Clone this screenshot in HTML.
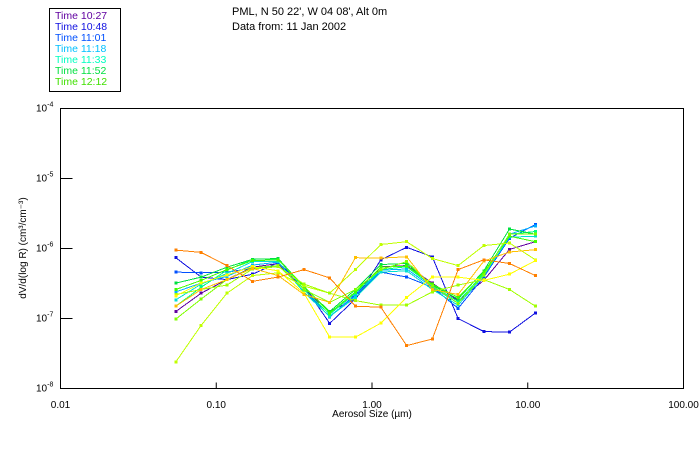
<!DOCTYPE html>
<html><head><meta charset="utf-8"><style>
body{margin:0;background:#fff;}
svg{display:block;font-family:"Liberation Sans",sans-serif;}
</style></head><body>
<svg id="chart" width="700" height="450" viewBox="0 0 700 450">
<rect x="0" y="0" width="700" height="450" fill="#fff"/>
<g>
<rect x="49.5" y="8.5" width="71" height="83" fill="none" stroke="#000"/>
<g id="legend-items" font-size="10.5"></g>
</g>
<text x="232" y="15" font-size="11">PML, N 50 22', W 04 08', Alt 0m</text>
<text x="232" y="30" font-size="11">Data from: 11 Jan 2002</text>
<rect x="60.5" y="108.5" width="623" height="280" fill="none" stroke="#000"/>
<g id="axes"></g>
<g id="series" shape-rendering="crispEdges"></g>
<text x="372" y="417" font-size="10" text-anchor="middle">Aerosol Size (µm)</text>
<text transform="translate(26,248) rotate(-90)" font-size="10" text-anchor="middle">dV/d(log R) (cm³/cm⁻³)</text>
</svg>
<script>
const sizes = [0.055,0.080,0.117,0.171,0.250,0.366,0.535,0.782,1.14,1.67,2.44,3.57,5.22,7.63,11.2];
const seriesNames = ["10:27","10:48","11:01","11:18","11:33","11:40","11:52","12:12","s9","s10","s11","s12","s13","s14"];
const seriesColors = ["#6000a0","#1010e0","#0050ff","#00b0ff","#00e0d0","#00ff80","#00e040","#40ff00","#80ff00","#c0ff00","#a0ff00","#ffff00","#ffc000","#ff8000"];
const legendLabels = ["Time 10:27","Time 10:48","Time 11:01","Time 11:18","Time 11:33","Time 11:52","Time 12:12"];
const legendColors = ["#6000a0","#1010e0","#0050ff","#00c0ff","#00ffc0","#00e040","#40e000"];
const s1 = [1.26e-7,2.3e-7,3.6e-7,5.4e-7,6.1e-7,2.6e-7,1.26e-7,1.9e-7,5.5e-7,5.7e-7,3.2e-7,1.8e-7,3.5e-7,9.7e-7,1.25e-6];
const s2 = [7.4e-7,3.9e-7,3.6e-7,4.3e-7,6.3e-7,2.9e-7,8.5e-8,1.9e-7,6.9e-7,1.04e-6,7.6e-7,1.0e-7,6.5e-8,6.4e-8,1.2e-7];
const s3 = [4.6e-7,4.5e-7,4.6e-7,5.2e-7,5.7e-7,2.6e-7,1.05e-7,2.2e-7,4.6e-7,3.9e-7,2.8e-7,1.4e-7,3.9e-7,1.4e-6,2.2e-6];
const s4 = [2.4e-7,3.2e-7,4.0e-7,5.8e-7,6.4e-7,2.4e-7,1.08e-7,2.1e-7,4.9e-7,5.1e-7,2.8e-7,1.65e-7,4.2e-7,1.6e-6,2.1e-6];
const s5 = [1.85e-7,3.1e-7,4.4e-7,6.5e-7,6.5e-7,2.35e-7,1.07e-7,2.0e-7,4.6e-7,4.8e-7,2.6e-7,1.55e-7,4.1e-7,1.45e-6,1.5e-6];
const s6 = [1.5e-7,2.8e-7,4.9e-7,7.0e-7,7.1e-7,2.6e-7,1.15e-7,2.3e-7,5.0e-7,5.5e-7,2.9e-7,1.75e-7,4.4e-7,1.6e-6,1.75e-6];
const s7 = [3.2e-7,3.9e-7,5.4e-7,7.0e-7,7.2e-7,2.8e-7,1.26e-7,2.6e-7,5.9e-7,6.1e-7,3.0e-7,1.9e-7,4.8e-7,1.9e-6,1.6e-6];
const s8 = [2.6e-7,3.5e-7,5.0e-7,6.7e-7,6.9e-7,2.9e-7,1.2e-7,2.4e-7,5.4e-7,5.6e-7,3.1e-7,2.0e-7,4.6e-7,1.5e-6,1.25e-6];
const s9 = [9.8e-8,1.9e-7,3.6e-7,5.3e-7,5.7e-7,2.6e-7,1.7e-7,2.6e-7,5.0e-7,6.5e-7,2.9e-7,1.65e-7,4.2e-7,1.6e-6,1.6e-6];
const s10 = [2.4e-8,8.0e-8,2.3e-7,4.1e-7,4.5e-7,2.9e-7,2.3e-7,5.0e-7,1.14e-6,1.25e-6,7.2e-7,5.7e-7,1.1e-6,1.2e-6,6.9e-7];
const s11 = [2.2e-7,2.6e-7,3.0e-7,5.1e-7,5.5e-7,3.1e-7,2.3e-7,1.8e-7,1.55e-7,1.55e-7,2.4e-7,3.0e-7,3.6e-7,2.6e-7,1.5e-7];
const s12 = [2.1e-7,3.2e-7,4.2e-7,5.5e-7,4.8e-7,2.3e-7,5.4e-8,5.4e-8,8.6e-8,2.0e-7,3.9e-7,3.9e-7,3.5e-7,4.3e-7,6.7e-7];
const s13 = [1.5e-7,2.6e-7,3.6e-7,5.2e-7,4.1e-7,2.2e-7,1.7e-7,7.4e-7,7.3e-7,7.6e-7,2.6e-7,2.2e-7,6.6e-7,8.9e-7,9.6e-7];
const s14 = [9.5e-7,8.8e-7,5.7e-7,3.4e-7,3.9e-7,5.0e-7,3.8e-7,1.5e-7,1.45e-7,4.1e-8,5.1e-8,5.0e-7,6.9e-7,6.1e-7,4.1e-7];
const allSeries = [s1,s2,s3,s4,s5,s6,s7,s8,s9,s10,s11,s12,s13,s14];
const xTickVals = [0.01,0.1,1,10,100];
const xTickLabels = ["0.01","0.10","1.00","10.00","100.00"];
const yTickExps = [-4,-5,-6,-7,-8];

const NS="http://www.w3.org/2000/svg";
const X0=60.5,X1=683.5,Y0=108.5,Y1=388.5;
function xs(v){return X0+(Math.log10(v)+2)/4*(X1-X0);}
function ys(v){return Y0+(-4-Math.log10(v))/4*(Y1-Y0);}
function mk(t,a,p){const e=document.createElementNS(NS,t);for(const k in a)e.setAttribute(k,a[k]);p.appendChild(e);return e;}

const axes=document.getElementById('axes');
xTickVals.forEach((v,i)=>{
  const x=xs(v);
  if(i>0&&i<xTickVals.length-1){
    const t=mk('line',{x1:x,x2:x,y1:Y1,y2:Y1-6,stroke:'#000'},axes);
    
    
  }
  const l=mk('text',{x:x,y:408,'font-size':'10','text-anchor':'middle'},axes);
  l.textContent=xTickLabels[i];
  
  
});
yTickExps.forEach((e,i)=>{
  const y=ys(Math.pow(10,e));
  if(i>0&&i<yTickExps.length-1){
    const t=mk('line',{x1:X0,x2:X0+12,y1:y,y2:y,stroke:'#000'},axes);
    
    
  }
  const l=mk('text',{x:36,y:y+3,'font-size':'10'},axes);
  l.innerHTML='10<tspan font-size="7" dy="-5">'+e+'</tspan>';
  
  
});

const sg=document.getElementById('series');
allSeries.forEach((vals,si)=>{
  const g=mk('g',{},sg);
  
  
  const pts=vals.map((v,i)=>xs(sizes[i]).toFixed(1)+','+ys(v).toFixed(1)).join(' ');
  const pl=mk('polyline',{points:pts,fill:'none',stroke:seriesColors[si],'stroke-width':1},g);
  
  
  vals.forEach((v,i)=>{
    const r=mk('rect',{x:xs(sizes[i])-1.5,y:ys(v)-1.5,width:3,height:3,fill:seriesColors[si]},g);
    
    
  });
});

const lg=document.getElementById('legend-items');
legendLabels.forEach((t,i)=>{
  const e=mk('text',{x:55,y:19+i*11,fill:legendColors[i]},lg);
  e.textContent=t;
  
  
});
</script>
</body></html>
